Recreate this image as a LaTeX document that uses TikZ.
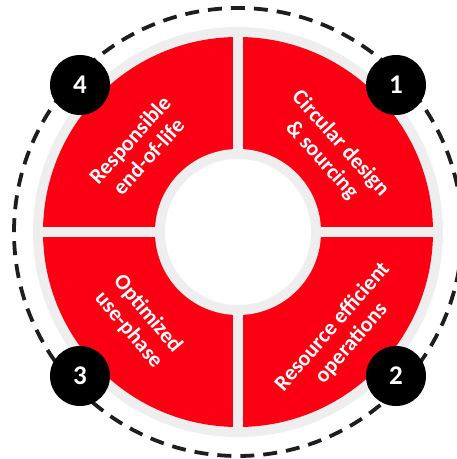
\documentclass[tikz,border=0pt]{standalone}
\usepackage{fontspec}
\setmainfont{Carlito}
\usepackage{tikz}
\usetikzlibrary{positioning}
\definecolor{ringred}{RGB}{250,0,18}
\definecolor{ringgray}{RGB}{238,238,238}
\definecolor{dashgray}{RGB}{30,30,30}

\begin{document}
\begin{tikzpicture}[x=1pt,y=1pt,
  label/.style={text=white,font=\bfseries\fontsize{22}{25}\selectfont,align=center},
  numdot/.style={circle,fill=black,minimum size=60pt,inner sep=0pt,text=white,font=\bfseries\fontsize{27}{27}\selectfont}]
\useasboundingbox (-238,-227) rectangle (219,232);
\draw[dashgray,line width=3.8pt,dash pattern=on 14pt off 9pt] (0,0) circle (224);
\fill[ringgray] (0,0) circle (205);
\fill[ringred] (0,0) circle (195);
\draw[ringgray,line width=10pt] (-200,0) -- (200,0);
\draw[ringgray,line width=10pt] (0,-200) -- (0,200);
\fill[ringgray] (0,0) circle (83);
\fill[white] (0,0) circle (73);
\node[label,rotate=-48] (t_1) at (93,80) {Circular design\\\& sourcing};
\node[label,rotate=49]  (t_2) at (104,-103) {Resource efficient\\operations};
\node[label,rotate=-50] (t_3) at (-100,-90) {Optimized\\use-phase};
\node[label,rotate=48]  (t_4) at (-99,84) {Responsible\\end-of-life};
\node[numdot] (n_1) at (158,147) {1};
\node[numdot] (n_2) at (158,-144) {2};
\node[numdot] (n_3) at (-158,-144) {3};
\node[numdot] (n_4) at (-158,147) {4};
\end{tikzpicture}
\end{document}
